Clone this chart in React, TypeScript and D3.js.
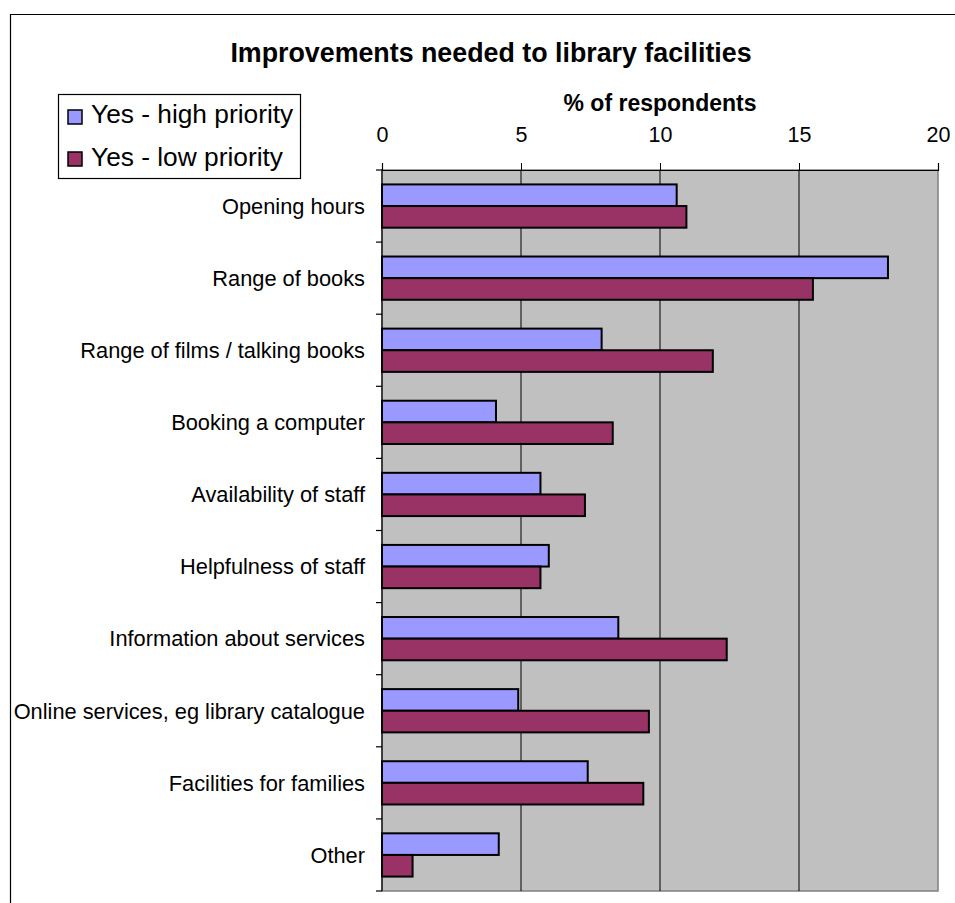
import React, { useRef, useEffect } from "react";
import * as d3 from "d3";

// categories top to bottom
const categories = [
  "Opening hours",
  "Range of books",
  "Range of films / talking books",
  "Booking a computer",
  "Availability of staff",
  "Helpfulness of staff",
  "Information about services",
  "Online services, eg library catalogue",
  "Facilities for families",
  "Other",
];

const highPriority = [10.6, 18.2, 7.9, 4.1, 5.7, 6.0, 8.5, 4.9, 7.4, 4.2];
const lowPriority = [10.95, 15.5, 11.9, 8.3, 7.3, 5.7, 12.4, 9.6, 9.4, 1.1];

const seriesNames = ["Yes - high priority", "Yes - low priority"];
const seriesColors = ["#9999FF", "#993366"];
const xTicks = [0, 5, 10, 15, 20];

const FONT = "Arial, 'Liberation Sans', sans-serif";

const App = () => {
  const svgRef = useRef<SVGSVGElement | null>(null);

  useEffect(() => {
    const svg = d3.select(svgRef.current);
    svg.selectAll("*").remove();

    const W = 955;
    const H = 903;
    const plot = { left: 382, right: 938, top: 170, bottom: 891 };

    svg.attr("width", W).attr("height", H).style("overflow", "hidden");

    // chart area border: only top and left edges are inside the picture
    svg.append("rect").attr("width", W).attr("height", H).attr("fill", "#fff");
    svg.append("path")
      .attr("d", `M10.5,${H}V14.5H${W}`)
      .attr("fill", "none").attr("stroke", "#000").attr("stroke-width", 1.2);

    const x = d3.scaleLinear().domain([0, 20]).range([plot.left, plot.right]);
    const y = d3.scaleBand().domain(categories).range([plot.top, plot.bottom]).padding(0);
    const ySub = d3.scaleBand()
      .domain(seriesNames)
      .range([0, y.bandwidth()])
      .paddingInner(0)
      .paddingOuter(2 / 3);

    // plot area background
    svg.append("rect")
      .attr("x", plot.left).attr("y", plot.top)
      .attr("width", plot.right - plot.left).attr("height", plot.bottom - plot.top)
      .attr("fill", "#C0C0C0")
      .attr("stroke", "#808080").attr("stroke-width", 1.5);

    // gridlines
    svg.append("g")
      .selectAll("line")
      .data(xTicks.filter(t => t > 0 && t < 20))
      .enter()
      .append("line")
      .attr("x1", d => x(d)).attr("x2", d => x(d))
      .attr("y1", plot.top).attr("y2", plot.bottom)
      .attr("stroke", "#000").attr("stroke-width", 1);

    // bars
    const rows = categories.map((c, i) => ({ c, vals: [highPriority[i], lowPriority[i]] }));
    svg.append("g")
      .selectAll("g")
      .data(rows)
      .enter()
      .append("g")
      .attr("transform", d => `translate(0,${y(d.c)})`)
      .selectAll("rect")
      .data(d => d.vals.map((v, j) => ({ v, j })))
      .enter()
      .append("rect")
      .attr("x", x(0))
      .attr("y", d => ySub(seriesNames[d.j]) as number)
      .attr("width", d => x(d.v) - x(0))
      .attr("height", ySub.bandwidth())
      .attr("fill", d => seriesColors[d.j])
      .attr("stroke", "#000")
      .attr("stroke-width", 2);

    // top axis
    const xAxis = d3.axisTop(x).tickValues(xTicks).tickSize(7).tickPadding(21).tickFormat(d3.format("d"));
    const gx = svg.append("g")
      .attr("transform", `translate(0,${plot.top})`)
      .call(xAxis);
    gx.select(".domain").attr("stroke", "#000").attr("stroke-width", 1.2);
    gx.selectAll(".tick line").attr("stroke", "#000");
    gx.selectAll(".tick text")
      .attr("font-family", FONT).attr("font-size", 21.5).attr("fill", "#000");

    // left axis with ticks at band boundaries
    svg.append("line")
      .attr("x1", plot.left).attr("x2", plot.left)
      .attr("y1", plot.top).attr("y2", plot.bottom)
      .attr("stroke", "#000").attr("stroke-width", 1.2);
    const bounds = categories.map(c => y(c) as number).concat([plot.bottom]);
    svg.append("g")
      .selectAll("line")
      .data(bounds)
      .enter()
      .append("line")
      .attr("x1", plot.left - 6).attr("x2", plot.left)
      .attr("y1", d => d).attr("y2", d => d)
      .attr("stroke", "#000").attr("stroke-width", 1.2);

    svg.append("g")
      .selectAll("text")
      .data(categories)
      .enter()
      .append("text")
      .attr("x", 365)
      .attr("y", d => (y(d) as number) + y.bandwidth() / 2)
      .attr("dy", "0.36em")
      .attr("text-anchor", "end")
      .attr("font-family", FONT).attr("font-size", 21.8)
      .text(d => d);

    // titles
    svg.append("text")
      .attr("x", 491).attr("y", 62)
      .attr("text-anchor", "middle")
      .attr("font-family", FONT).attr("font-size", 26.8).attr("font-weight", "bold")
      .text("Improvements needed to library facilities");

    svg.append("text")
      .attr("x", (plot.left + plot.right) / 2).attr("y", 111)
      .attr("text-anchor", "middle")
      .attr("font-family", FONT).attr("font-size", 23).attr("font-weight", "bold")
      .text("% of respondents");

    // legend
    const legend = svg.append("g");
    legend.append("rect")
      .attr("x", 58.5).attr("y", 94.5).attr("width", 242).attr("height", 84)
      .attr("fill", "#fff").attr("stroke", "#000").attr("stroke-width", 1.2);
    seriesNames.forEach((name, i) => {
      legend.append("rect")
        .attr("x", 68).attr("y", 110 + i * 42).attr("width", 14).attr("height", 14)
        .attr("fill", seriesColors[i]).attr("stroke", "#000").attr("stroke-width", 1.5);
      legend.append("text")
        .attr("x", 91).attr("y", 123 + i * 43)
        .attr("font-family", FONT).attr("font-size", 26.3)
        .text(name);
    });
  }, []);

  return (
    <svg ref={svgRef} style={{ position: "absolute", left: 0, top: 0, display: "block" }}></svg>
  );
};

export default App;
